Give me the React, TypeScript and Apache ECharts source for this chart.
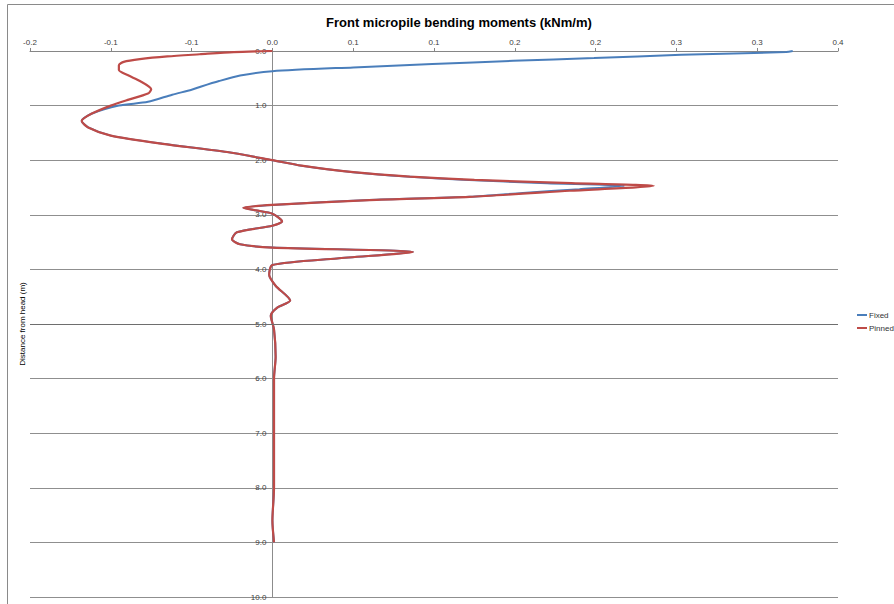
import React, { useEffect, useRef } from "react";
import * as echarts from "echarts";

const title = "Front micropile bending moments (kNm/m)";
const yAxisName = "Distance from head (m)";
const xTickLabels = ["-0.2", "-0.1", "-0.1", "0.0", "0.1", "0.1", "0.2", "0.2", "0.3", "0.3", "0.4"];
const seriesNames = ["Fixed", "Pinned"];

// Depths (m) and moments (kNm/m)
const fixedDepth = [0.0, 0.02, 0.07, 0.13, 0.18, 0.24, 0.3, 0.37, 0.45, 0.55, 0.65, 0.71, 0.8, 0.93, 1.0, 1.15, 1.28, 1.4, 1.55, 1.7, 1.85, 2.0, 2.1, 2.22, 2.3, 2.36, 2.42, 2.47, 2.53, 2.6, 2.67, 2.73, 2.82, 2.87, 2.92, 2.98, 3.12, 3.2, 3.32, 3.45, 3.54, 3.6, 3.68, 3.8, 3.92, 4.1, 4.3, 4.57, 4.7, 4.85, 5.1, 5.6, 6.0, 7.0, 8.0, 8.6, 9.0];
const fixedMoment = [0.322, 0.318, 0.253, 0.199, 0.149, 0.099, 0.05, 0.0, -0.02, -0.033, -0.044, -0.05, -0.062, -0.077, -0.095, -0.112, -0.118, -0.114, -0.1, -0.068, -0.028, 0.0, 0.018, 0.05, 0.083, 0.118, 0.17, 0.218, 0.19, 0.155, 0.122, 0.06, 0.0, -0.018, -0.01, 0.0, 0.006, 0.0, -0.022, -0.025, -0.02, 0.0, 0.087, 0.04, 0.0, -0.002, 0.002, 0.011, 0.003, -0.001, 0.001, 0.002, 0.001, 0.001, 0.001, 0.0, 0.001];

const pinnedDepth = [0.0, 0.02, 0.06, 0.1, 0.15, 0.2, 0.26, 0.35, 0.45, 0.55, 0.7, 0.78, 0.9, 1.0, 1.15, 1.28, 1.4, 1.55, 1.7, 1.85, 2.0, 2.1, 2.22, 2.3, 2.36, 2.42, 2.47, 2.56, 2.67, 2.73, 2.82, 2.87, 2.92, 2.98, 3.12, 3.2, 3.32, 3.45, 3.54, 3.6, 3.68, 3.8, 3.92, 4.1, 4.3, 4.57, 4.7, 4.85, 5.1, 5.6, 6.0, 7.0, 8.0, 8.6, 9.0];
const pinnedMoment = [0.0, -0.024, -0.045, -0.065, -0.082, -0.092, -0.095, -0.095, -0.089, -0.082, -0.075, -0.077, -0.09, -0.1, -0.112, -0.118, -0.114, -0.1, -0.068, -0.028, 0.0, 0.018, 0.05, 0.085, 0.125, 0.185, 0.236, 0.184, 0.122, 0.06, 0.0, -0.018, -0.01, 0.0, 0.006, 0.0, -0.022, -0.025, -0.02, 0.0, 0.087, 0.04, 0.0, -0.002, 0.002, 0.011, 0.003, -0.001, 0.001, 0.002, 0.001, 0.001, 0.001, 0.0, 0.001];

const X_MIN = -0.15;
const X_MAX = 0.35;
const X_STEP = 0.05;

const GRID_LEFT = 30;
const GRID_RIGHT = 56;
const CHART_W = 894;

export default function App() {
  const ref = useRef<HTMLDivElement>(null);
  useEffect(() => {
    if (!ref.current) return;
    const chart = echarts.init(ref.current, null, { renderer: "svg" });
    const font = "'Liberation Sans', Arial, sans-serif";
    const plotW = CHART_W - GRID_LEFT - GRID_RIGHT;
    const zeroOffset = -((0 - X_MIN) / (X_MAX - X_MIN)) * plotW;
    chart.setOption({
      animation: false,
      textStyle: { fontFamily: font },
      title: {
        text: title,
        left: 321,
        top: 11,
        textStyle: { fontSize: 13, fontWeight: "bold", color: "#000", fontFamily: font },
      },
      legend: {
        data: seriesNames,
        orient: "vertical",
        left: 852,
        top: 306,
        icon: "rect",
        itemWidth: 10,
        itemHeight: 2,
        itemGap: 5,
        textStyle: { fontSize: 8, color: "#333", padding: [0, 0, 0, -3] },
      },
      grid: { left: GRID_LEFT, right: GRID_RIGHT, top: 51, bottom: 7 },
      xAxis: {
        type: "value",
        position: "top",
        min: X_MIN,
        max: X_MAX,
        interval: X_STEP,
        axisLine: { show: true, onZero: false, lineStyle: { color: "#868686" } },
        axisTick: { show: true, length: 3, lineStyle: { color: "#868686" } },
        axisLabel: {
          fontSize: 8,
          color: "#404040",
          margin: 5,
          formatter: (v: number) => xTickLabels[Math.round((v - X_MIN) / X_STEP)] ?? "",
        },
        splitLine: { show: false },
      },
      yAxis: {
        type: "value",
        inverse: true,
        min: 0,
        max: 10,
        interval: 1,
        position: "left",
        offset: zeroOffset,
        axisLine: { show: true, onZero: false, lineStyle: { color: "#8c8c8c" } },
        axisTick: { show: false },
        axisLabel: {
          fontSize: 8,
          color: "#404040",
          margin: 6,
          formatter: (v: number) => v.toFixed(1),
        },
        splitLine: { show: true, lineStyle: { color: "#8f8f8f", width: 1 } },
      },
      graphic: [
        {
          type: "rect",
          shape: { x: 7.5, y: 4.5, width: 900, height: 610 },
          style: { fill: "none", stroke: "#8a8a8a", lineWidth: 1 },
          silent: true,
        },
        {
          type: "text",
          x: 22,
          y: 324,
          rotation: Math.PI / 2,
          style: {
            text: yAxisName,
            fontSize: 8,
            fontFamily: font,
            fill: "#000",
            align: "center",
            verticalAlign: "middle",
          },
          silent: true,
        },
      ],
      series: [
        {
          name: seriesNames[0],
          type: "line",
          data: fixedDepth.map((d, i) => [fixedMoment[i], d]),
          showSymbol: false,
          smooth: 0.25,
          lineStyle: { color: "#4a7ebb", width: 2 },
          itemStyle: { color: "#4a7ebb" },
          markLine: {
            silent: true,
            symbol: "none",
            label: { show: false },
            lineStyle: { color: "#6e6e6e", width: 1.2, type: "solid" },
            data: [{ yAxis: 5 }],
          },
          z: 2,
        },
        {
          name: seriesNames[1],
          type: "line",
          data: pinnedDepth.map((d, i) => [pinnedMoment[i], d]),
          showSymbol: false,
          smooth: 0.25,
          lineStyle: { color: "#be4b48", width: 2.2 },
          itemStyle: { color: "#be4b48" },
          z: 3,
        },
      ],
    });
    return () => chart.dispose();
  }, []);
  return (
    <div
      ref={ref}
      style={{ position: "absolute", left: 0, top: 0, width: CHART_W, height: 604, background: "#fff" }}
    />
  );
}
